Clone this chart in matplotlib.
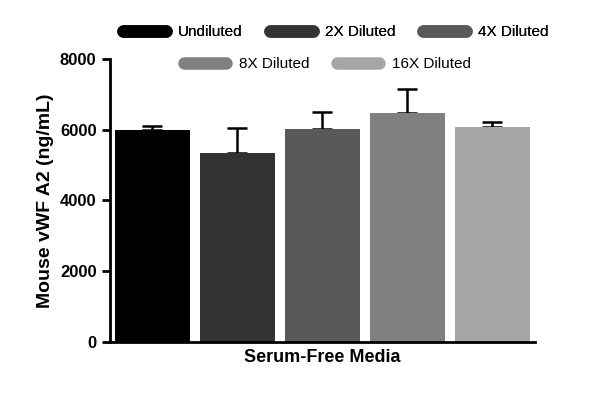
import matplotlib
matplotlib.use("Agg")
import matplotlib.pyplot as plt
from matplotlib.patches import FancyBboxPatch
from matplotlib.lines import Line2D

plt.rcParams['font.family'] = ['Liberation Sans', 'DejaVu Sans']

labels = ["Undiluted", "2X Diluted", "4X Diluted", "8X Diluted", "16X Diluted"]
values = [6000, 5350, 6020, 6480, 6080]
errors = [100, 700, 480, 680, 140]
colors = ["#000000", "#333333", "#595959", "#808080", "#a6a6a6"]
yticks = [0, 2000, 4000, 6000, 8000]

fig = plt.figure(figsize=(6, 4), dpi=100)
ax = fig.add_axes([0.183, 0.145, 0.708, 0.7075])
x = list(range(len(values)))
ax.bar(x, values, width=0.88, color=colors, zorder=2)
ax.errorbar(x, values, yerr=[[0]*5, errors], fmt='none', ecolor='black',
            elinewidth=1.8, capsize=7, capthick=1.8, zorder=1)
ax.set_xlim(-0.5, 4.5)
ax.set_ylim(0, 8000)
ax.set_yticks(yticks)
ax.set_yticklabels([str(t) for t in yticks], fontsize=12, fontweight='bold')
ax.set_xticks([])
ax.set_xlabel("Serum-Free Media", fontsize=13, fontweight='bold', labelpad=5)
ax.set_ylabel("Mouse vWF A2 (ng/mL)", fontsize=14, fontweight='bold')
for s in ['top', 'right']:
    ax.spines[s].set_visible(False)
for s in ['left', 'bottom']:
    ax.spines[s].set_linewidth(2)
ax.tick_params(axis='y', width=2, length=6)

handles = [Line2D([0], [0], color=c, lw=9, solid_capstyle='round') for c in colors]
leg1 = fig.legend(handles[:3], labels[:3], loc='center', bbox_to_anchor=(0.56, 0.92),
                  ncol=3, frameon=False, fontsize=11, handlelength=2.8, columnspacing=1.8)
fig.legend(handles[3:], labels[3:], loc='center', bbox_to_anchor=(0.545, 0.84),
           ncol=2, frameon=False, fontsize=11, handlelength=2.8, columnspacing=1.8)
fig.add_artist(leg1)
fig.savefig("out.png", dpi=100)
